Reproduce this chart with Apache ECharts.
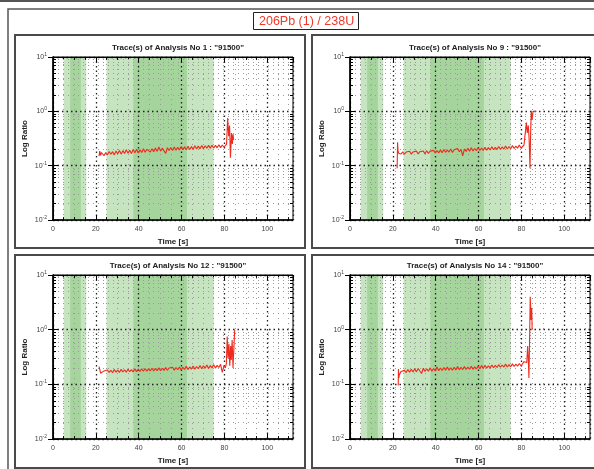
<!DOCTYPE html>
<html>
<head>
<meta charset="utf-8">
<script src="https://cdn.jsdelivr.net/npm/echarts@6/dist/echarts.min.js"></script>
<style>
html, body { margin: 0; padding: 0; background: #fff; }
#main { width: 594px; height: 469px; }
</style>
</head>
<body>
<div id="main"></div>
<script>
// ratio trace data
var mainTitle = "206Pb (1) / 238U";
var panelTitles = [
    'Trace(s) of Analysis No 1 : "91500"',
    'Trace(s) of Analysis No 9 : "91500"',
    'Trace(s) of Analysis No 12 : "91500"',
    'Trace(s) of Analysis No 14 : "91500"'
];

var time = [
    23.0, 23.8, 24.6, 25.4, 26.2, 27.0, 27.8, 28.6, 29.4, 30.2, 31.0, 31.8,
    32.6, 33.4, 34.2, 35.0, 35.8, 36.6, 37.4, 38.2, 39.0, 39.8, 40.6, 41.4,
    42.2, 43.0, 43.8, 44.6, 45.4, 46.2, 47.0, 47.8, 48.6, 49.4, 50.2, 51.0,
    51.8, 52.6, 53.4, 54.2, 55.0, 55.8, 56.6, 57.4, 58.2, 59.0, 59.8, 60.6,
    61.4, 62.2, 63.0, 63.8, 64.6, 65.4, 66.2, 67.0, 67.8, 68.6, 69.4, 70.2,
    71.0, 71.8, 72.6, 73.4, 74.2, 75.0, 75.8, 76.6, 77.4, 78.2, 79.0, 79.8
];

var ratio1 = [
    0.178, 0.152, 0.175, 0.158, 0.183, 0.162, 0.181, 0.158, 0.186, 0.165, 0.19, 0.163,
    0.189, 0.168, 0.196, 0.17, 0.192, 0.167, 0.198, 0.172, 0.2, 0.171, 0.197, 0.175,
    0.205, 0.176, 0.2, 0.214, 0.178, 0.204, 0.181, 0.211, 0.183, 0.222, 0.185, 0.21,
    0.187, 0.168, 0.214, 0.19, 0.216, 0.19, 0.22, 0.193, 0.218, 0.194, 0.225, 0.196,
    0.222, 0.197, 0.228, 0.199, 0.224, 0.2, 0.232, 0.202, 0.229, 0.204, 0.235, 0.206,
    0.233, 0.209, 0.236, 0.21, 0.238, 0.212, 0.236, 0.213, 0.242, 0.215, 0.24, 0.218
];
var head1 = [[21.5, 0.15], [21.8, 0.185], [22.2, 0.155], [22.6, 0.175]];
var tail1 = [[80.4, 0.22], [81.0, 0.25], [81.5, 0.75], [82.0, 0.35], [82.4, 0.55],
    [82.8, 0.14], [83.3, 0.4], [83.7, 0.25], [84.0, 0.38], [84.3, 0.3]];

var ratio9 = [
    0.182, 0.164, 0.18, 0.162, 0.178, 0.165, 0.184, 0.163, 0.179, 0.166, 0.185, 0.164,
    0.181, 0.167, 0.186, 0.165, 0.188, 0.168, 0.185, 0.17, 0.191, 0.171, 0.189, 0.172,
    0.195, 0.173, 0.198, 0.176, 0.194, 0.178, 0.203, 0.175, 0.197, 0.181, 0.206, 0.18,
    0.2, 0.152, 0.203, 0.183, 0.209, 0.185, 0.213, 0.186, 0.207, 0.188, 0.216, 0.19,
    0.211, 0.191, 0.219, 0.193, 0.215, 0.195, 0.223, 0.196, 0.217, 0.198, 0.226, 0.2,
    0.221, 0.202, 0.23, 0.203, 0.225, 0.205, 0.236, 0.207, 0.229, 0.209, 0.239, 0.211
];
var head9 = [[22.0, 0.09], [22.2, 0.27], [22.4, 0.19], [22.7, 0.17]];
var tail9 = [[80.5, 0.22], [81.2, 0.24], [81.8, 0.23], [82.3, 0.62], [82.7, 0.4],
    [83.2, 0.55], [83.6, 0.3], [84.0, 0.09], [84.3, 0.4], [84.6, 1.0], [85.0, 0.7],
    [85.4, 1.0], [87.0, 1.0]];

var ratio12 = [
    0.16, 0.176, 0.163, 0.183, 0.165, 0.181, 0.163, 0.186, 0.167, 0.182, 0.165, 0.188,
    0.168, 0.185, 0.166, 0.19, 0.17, 0.186, 0.169, 0.192, 0.171, 0.188, 0.172, 0.193,
    0.173, 0.195, 0.174, 0.192, 0.176, 0.197, 0.175, 0.196, 0.178, 0.2, 0.177, 0.197,
    0.18, 0.202, 0.181, 0.199, 0.183, 0.206, 0.182, 0.203, 0.185, 0.208, 0.184, 0.205,
    0.187, 0.213, 0.186, 0.208, 0.19, 0.217, 0.189, 0.212, 0.193, 0.221, 0.192, 0.218,
    0.196, 0.226, 0.195, 0.22, 0.2, 0.229, 0.198, 0.223, 0.203, 0.232, 0.165, 0.222
];
var head12 = [[21.5, 0.21], [21.8, 0.19], [22.2, 0.16], [22.6, 0.15]];
var tail12 = [[80.4, 0.2], [80.9, 0.24], [81.3, 0.75], [81.7, 0.3], [82.1, 0.55],
    [82.5, 0.22], [82.9, 0.5], [83.2, 0.28], [83.6, 0.65], [84.0, 0.2], [84.4, 0.45],
    [84.8, 1.0]];

var ratio14 = [
    0.148, 0.172, 0.165, 0.18, 0.164, 0.186, 0.166, 0.189, 0.168, 0.192, 0.169, 0.195,
    0.175, 0.158, 0.197, 0.172, 0.193, 0.174, 0.2, 0.173, 0.195, 0.176, 0.208, 0.177,
    0.199, 0.179, 0.203, 0.181, 0.208, 0.182, 0.201, 0.181, 0.206, 0.183, 0.213, 0.184,
    0.205, 0.186, 0.211, 0.187, 0.207, 0.189, 0.214, 0.188, 0.209, 0.191, 0.217, 0.193,
    0.22, 0.196, 0.223, 0.198, 0.219, 0.2, 0.226, 0.201, 0.222, 0.203, 0.229, 0.205,
    0.226, 0.207, 0.234, 0.208, 0.23, 0.21, 0.237, 0.212, 0.234, 0.214, 0.24, 0.217
];
var head14 = [[22.5, 0.095], [22.6, 0.19], [22.8, 0.13]];
var tail14 = [[80.5, 0.23], [81.2, 0.26], [82.0, 0.24], [82.5, 0.25], [82.9, 0.5],
    [83.2, 0.3], [83.5, 0.13], [83.8, 0.6], [84.1, 4.0], [84.5, 1.5], [84.8, 2.5],
    [85.0, 1.0]];

var bandsLight = [[5, 15.5], [25, 75]];
var bandsDark = [[8, 13], [37.5, 62.5]];
var minorX = [5, 10, 15, 25, 30, 35, 45, 50, 55, 65, 70, 75, 85, 90, 95, 105, 110];
var minorY = [0.02, 0.03, 0.04, 0.05, 0.06, 0.07, 0.08, 0.09,
    0.2, 0.3, 0.4, 0.5, 0.6, 0.7, 0.8, 0.9,
    2, 3, 4, 5, 6, 7, 8, 9];

var heads = [head1, head9, head12, head14];
var ratios = [ratio1, ratio9, ratio12, ratio14];
var tails = [tail1, tail9, tail12, tail14];

var X_MAX = 112, Y_MIN = 0.01, Y_MAX = 10;
var plots = [
    { left: 53, top: 57 }, { left: 350, top: 57 },
    { left: 53, top: 275 }, { left: 350, top: 275 }
];
var frames = [
    { x: 15, y: 35 }, { x: 312, y: 35 },
    { x: 15, y: 255 }, { x: 312, y: 255 }
];

var font = '"Liberation Sans", Arial, sans-serif';

function trace(i) {
    var out = heads[i].slice();
    for (var k = 0; k < time.length; k++) out.push([time[k], ratios[i][k]]);
    return out.concat(tails[i]);
}

function bandAreas() {
    var d = [];
    bandsLight.forEach(function (b) {
        d.push([{ xAxis: b[0], itemStyle: { color: '#c6e4bf' } }, { xAxis: b[1] }]);
    });
    bandsDark.forEach(function (b) {
        d.push([{ xAxis: b[0], itemStyle: { color: '#a5d49c' } }, { xAxis: b[1] }]);
    });
    return d;
}

function gridMarks() {
    var d = [];
    var dots = { type: [1, 4], color: '#9a9a9a', width: 1 };
    var tick = { type: 'solid', color: '#000', width: 1 };
    minorX.forEach(function (v) {
        d.push({ xAxis: v, lineStyle: dots });
        d.push([{ coord: [v, Y_MIN], lineStyle: tick }, { coord: [v, Y_MIN * 1.13] }]);
        d.push([{ coord: [v, Y_MAX], lineStyle: tick }, { coord: [v, Y_MAX / 1.13] }]);
    });
    minorY.forEach(function (v) {
        d.push({ yAxis: v, lineStyle: dots });
        d.push([{ coord: [0, v], lineStyle: tick }, { coord: [1.4, v] }]);
        d.push([{ coord: [X_MAX, v], lineStyle: tick }, { coord: [X_MAX - 1.4, v] }]);
    });
    return d;
}

var option = {
    animation: false,
    textStyle: { fontFamily: font },
    title: [],
    grid: [],
    xAxis: [],
    yAxis: [],
    series: [],
    graphic: []
};

option.title.push({
    text: mainTitle,
    left: 253, top: 12,
    padding: [2, 5, 1, 6],
    borderColor: '#222', borderWidth: 1,
    backgroundColor: '#fff',
    textStyle: { fontFamily: font, fontSize: 12.5, fontWeight: 'normal', color: '#ee3a2c', lineHeight: 15 }
});

option.graphic.push({
    type: 'line', shape: { x1: 0, y1: 1, x2: 594, y2: 1 },
    style: { stroke: '#555', lineWidth: 2 }
});
option.graphic.push({
    type: 'polyline', shape: { points: [[8, 469], [8, 9], [594, 9]] },
    style: { stroke: '#555', lineWidth: 1.5, fill: null }
});

plots.forEach(function (p, i) {
    var f = frames[i];
    option.graphic.push({
        type: 'rect', shape: { x: f.x, y: f.y, width: 290, height: 213 },
        style: { stroke: '#4a4a4a', lineWidth: 2, fill: null }
    });
    option.title.push({
        text: panelTitles[i],
        left: p.left + 120, top: p.top - 18,
        textAlign: 'center',
        textStyle: { fontFamily: font, fontSize: 8, fontWeight: 'bold', color: '#222' }
    });
    option.grid.push({
        left: p.left, top: p.top, width: 240, height: i < 2 ? 163 : 164,
        show: true, borderColor: '#000', borderWidth: 1, backgroundColor: '#fff'
    });
    var majorSplit = { show: true, lineStyle: { type: [1.5, 3], color: '#222', width: 1.3 } };
    option.xAxis.push({
        type: 'value', gridIndex: i, min: 0, max: X_MAX, interval: 20, z: 2,
        name: 'Time [s]', nameLocation: 'middle', nameGap: 18,
        nameTextStyle: { fontFamily: font, fontSize: 8, fontWeight: 'bold', color: '#222' },
        axisLine: { lineStyle: { color: '#000', width: 1.5 } },
        axisTick: { inside: true, length: 5, lineStyle: { color: '#000' } },
        axisLabel: { fontSize: 7, color: '#444', margin: 6, showMaxLabel: false },
        splitLine: majorSplit
    });
    option.xAxis.push({
        type: 'value', gridIndex: i, min: 0, max: X_MAX, interval: 20, position: 'top', z: 2,
        axisLine: { lineStyle: { color: '#000', width: 1 } },
        axisTick: { inside: true, length: 5, lineStyle: { color: '#000' } },
        axisLabel: { show: false }, splitLine: { show: false }
    });
    option.yAxis.push({
        type: 'log', logBase: 10, gridIndex: i, min: Y_MIN, max: Y_MAX, z: 2,
        name: 'Log Ratio', nameLocation: 'middle', nameRotate: 90, nameGap: 24,
        nameTextStyle: { fontFamily: font, fontSize: 8, fontWeight: 'bold', color: '#222' },
        axisLine: { lineStyle: { color: '#000', width: 1.5 } },
        axisTick: { inside: true, length: 5, lineStyle: { color: '#000' } },
        axisLabel: {
            margin: 6, fontSize: 7, color: '#444',
            formatter: function (v) {
                return '10{e|' + Math.round(Math.log(v) / Math.LN10) + '}';
            },
            rich: { e: { fontSize: 5, color: '#444', verticalAlign: 'top', padding: [0, 0, 5, 0] } }
        },
        splitLine: majorSplit
    });
    option.yAxis.push({
        type: 'log', logBase: 10, gridIndex: i, min: Y_MIN, max: Y_MAX, position: 'right', z: 2,
        axisLine: { lineStyle: { color: '#000', width: 1 } },
        axisTick: { inside: true, length: 5, lineStyle: { color: '#000' } },
        axisLabel: { show: false }, splitLine: { show: false }
    });
    option.series.push({
        type: 'line', xAxisIndex: i * 2, yAxisIndex: i * 2, z: 3,
        data: trace(i), symbol: 'none', showSymbol: false,
        lineStyle: { color: '#f02a1c', width: 1.1 },
        markArea: { silent: true, z: 1, data: bandAreas() },
        markLine: { silent: true, z: 1.5, symbol: 'none', label: { show: false },
            emphasis: { disabled: true }, data: gridMarks() }
    });
});

var chart = echarts.init(document.getElementById('main'), null, { renderer: 'canvas' });
chart.setOption(option);
</script>
</body>
</html>
